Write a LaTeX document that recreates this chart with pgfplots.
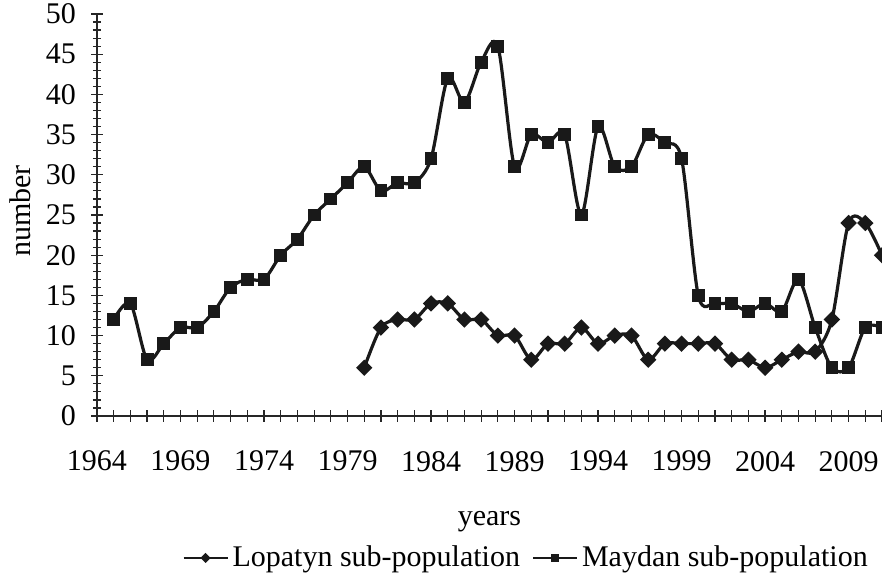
\documentclass[border=0pt]{standalone}
\usepackage{fontspec}
\setmainfont{Liberation Serif}
\usepackage{pgfplots}
\pgfplotsset{compat=1.18}
\pgfplotstableread{
year val
1980 6
1981 11
1982 12
1983 12
1984 14
1985 14
1986 12
1987 12
1988 10
1989 10
1990 7
1991 9
1992 9
1993 11
1994 9
1995 10
1996 10
1997 7
1998 9
1999 9
2000 9
2001 9
2002 7
2003 7
2004 6
2005 7
2006 8
2007 8
2008 12
2009 24
2010 24
2011 20
}\lopatyn
\pgfplotstableread{
year val
1965 12
1966 14
1967 7
1968 9
1969 11
1970 11
1971 13
1972 16
1973 17
1974 17
1975 20
1976 22
1977 25
1978 27
1979 29
1980 31
1981 28
1982 29
1983 29
1984 32
1985 42
1986 39
1987 44
1988 46
1989 31
1990 35
1991 34
1992 35
1993 25
1994 36
1995 31
1996 31
1997 35
1998 34
1999 32
2000 15
2001 14
2002 14
2003 13
2004 14
2005 13
2006 17
2007 11
2008 6
2009 6
2010 11
2011 11
}\maydan
\begin{document}
\begin{tikzpicture}[font=\fontsize{15}{18}\selectfont]
\begin{axis}[
  scale only axis, width=392.5pt, height=201pt,
  xmin=1964, xmax=2011, ymin=0, ymax=50,
  axis lines=left,
  axis line style={-, line width=0.9pt, color=black!85},
  xtick={1964,...,2011},
  xticklabels={1964,,,,,1969,,,,,1974,,,,,1979,,,,,1984,,,,,1989,,,,,1994,,,,,1999,,,,,2004,,,,,2009,,},
  ytick={0,5,...,50}, minor ytick={0,...,50},
  tick align=center,
  major tick length=6pt, minor tick length=4pt,
  every tick/.style={line width=0.6pt, color=black!85},
  /pgf/number format/assume math mode=true,
  xticklabel style={yshift=-11pt},
  yticklabel style={xshift=-4pt},
  xlabel={years},
  xlabel style={at={(axis description cs:0.5,-0.264)}, anchor=center},
  ylabel={number},
  ylabel style={at={(axis description cs:-0.098,0.51)}, anchor=center, rotate=0},
  legend columns=2,
  legend style={draw=none, at={(0.548,-0.353)}, anchor=center, inner sep=0pt,
    /tikz/every even column/.append style={column sep=4pt},
    nodes={inner sep=2pt}},
  legend image code/.code={\draw[#1, line width=1pt, mark repeat=2, mark phase=2, mark size=1.3pt] plot coordinates {(0pt,0pt) (11pt,0pt) (22pt,0pt)};},
  clip=true,
]
\addplot[smooth, line width=1.6pt, color=black!90, mark=square*, mark size=2.1pt, mark options={rotate=45}] table[x=year,y=val] {\lopatyn};
\addlegendentry{Lopatyn sub-population}
\addplot[smooth, line width=1.6pt, color=black!90, mark=square*, mark size=2.4pt] table[x=year,y=val] {\maydan};
\addlegendentry{Maydan sub-population}
\coordinate (O) at (rel axis cs:0,0);
\end{axis}
\pgfresetboundingbox
\path[use as bounding box] ([shift={(-48.5pt,-83pt)}]O) rectangle ([shift={(392.5pt,208pt)}]O);
\end{tikzpicture}
\end{document}
